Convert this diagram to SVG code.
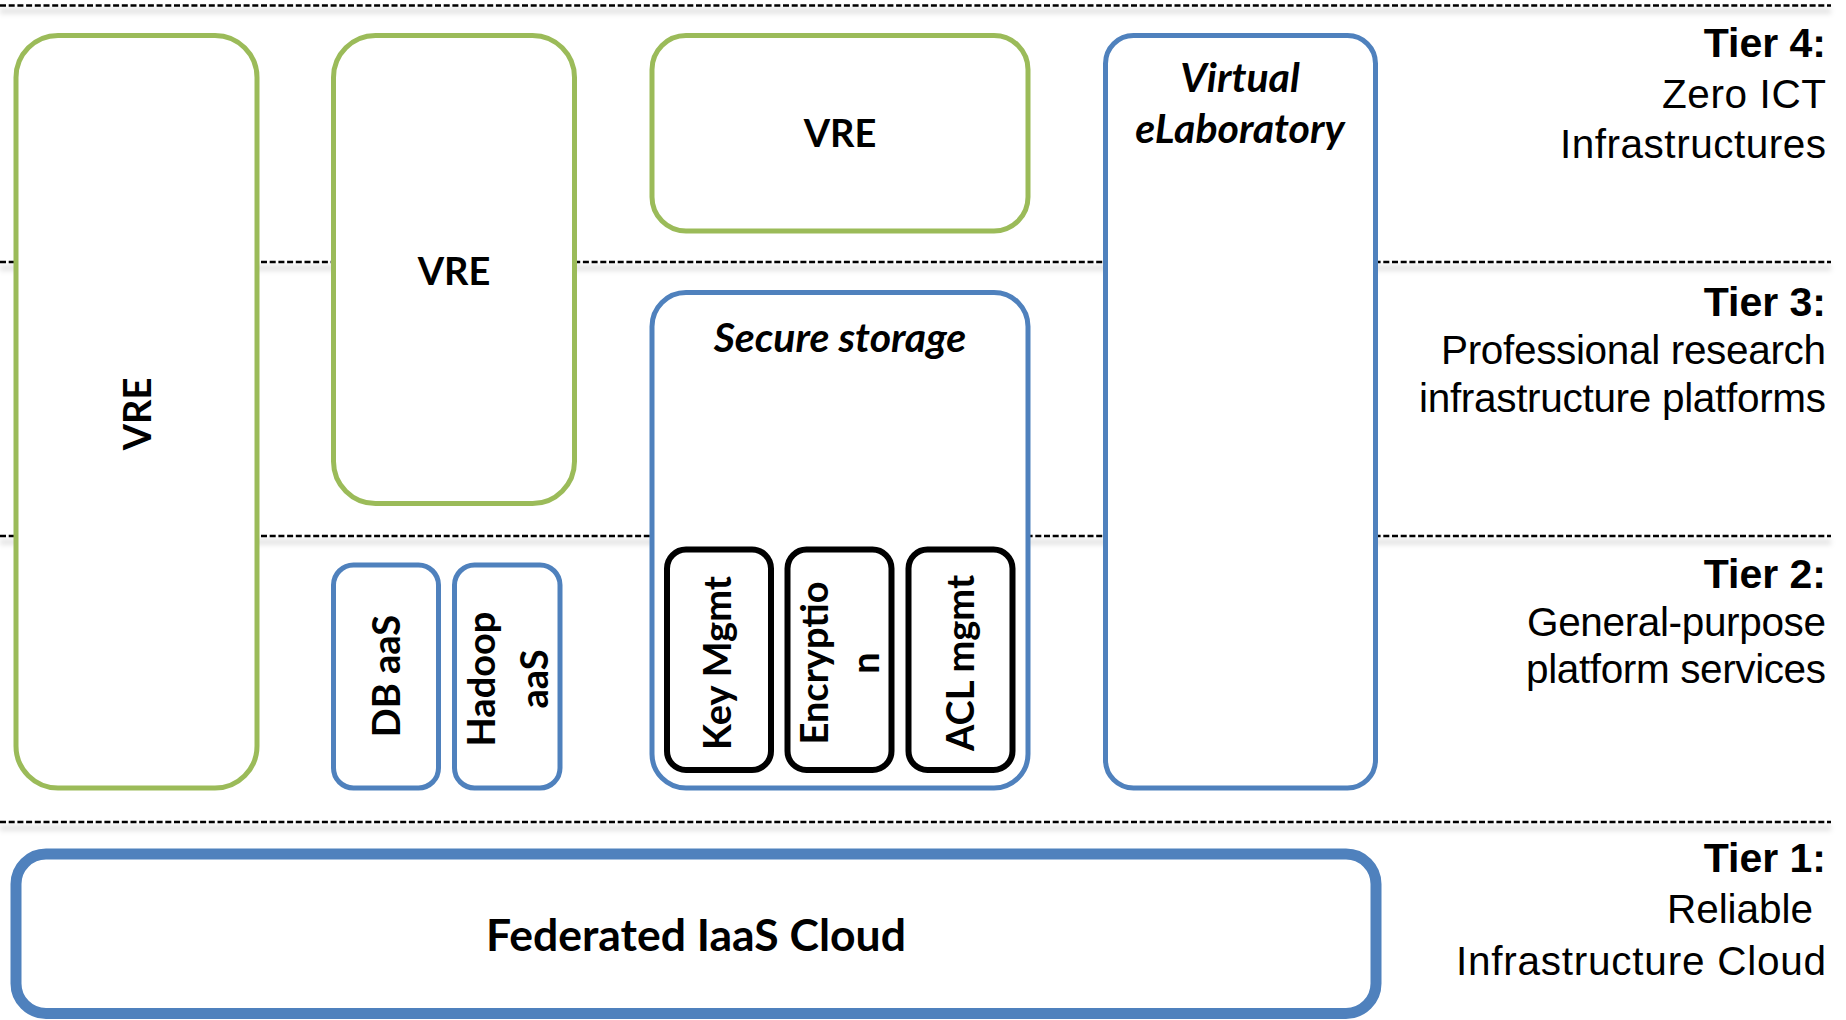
<svg xmlns="http://www.w3.org/2000/svg" width="1846" height="1020" viewBox="0 0 1846 1020">
  <defs>
    <style>
      .sep { stroke: #000; stroke-width: 2.6; stroke-dasharray: 6 2.7; fill: none; }
      .sep-shadow { stroke: #000; stroke-opacity: 0.1; stroke-width: 6; fill: none; }
      .green { fill: #fff; stroke: #9BBB59; stroke-width: 5; }
      .blue { fill: #fff; stroke: #4F81BD; stroke-width: 5; }
      .black { fill: #fff; stroke: #000; stroke-width: 6; }
      .cloud { fill: #fff; stroke: #4F81BD; stroke-width: 11; }
      .lbl { font-family: Lato, "Open Sans", sans-serif; font-weight: 700; font-size: 38px; fill: #000; text-anchor: middle; }
      .ital { font-style: italic; font-size: 41px; }
      .tier { font-family: "Liberation Sans", Arial, sans-serif; font-size: 40.5px; fill: #000; text-anchor: end; }
      .tierb { font-weight: 700; font-size: 41px; }
    </style>
    <filter id="blur" x="-5%" y="-300%" width="110%" height="700%">
      <feGaussianBlur stdDeviation="2.5"/>
    </filter>
  </defs>
  <rect width="1846" height="1020" fill="#fff"/>

  <g id="tier-lines">
    <g filter="url(#blur)">
      <line class="sep-shadow" x1="0" y1="11" x2="1831" y2="11"/>
      <line class="sep-shadow" x1="0" y1="268" x2="1831" y2="268"/>
      <line class="sep-shadow" x1="0" y1="542" x2="1831" y2="542"/>
      <line class="sep-shadow" x1="0" y1="828" x2="1831" y2="828"/>
    </g>
    <line class="sep" x1="0" y1="5.5" x2="1831" y2="5.5"/>
    <line class="sep" x1="0" y1="262" x2="1831" y2="262"/>
    <line class="sep" x1="0" y1="536" x2="1831" y2="536"/>
    <line class="sep" x1="0" y1="822" x2="1831" y2="822"/>
  </g>

  <g id="vre-left">
    <rect class="green" x="16" y="35.5" width="241" height="752.5" rx="42"/>
    <text class="lbl" transform="translate(151,414) rotate(-90)">VRE</text>
  </g>

  <g id="vre-middle">
    <rect class="green" x="333.5" y="35.5" width="241" height="468" rx="42"/>
    <text class="lbl" x="454" y="285">VRE</text>
  </g>

  <g id="vre-top">
    <rect class="green" x="652" y="35.5" width="376" height="195.5" rx="34"/>
    <text class="lbl" x="840" y="147">VRE</text>
  </g>

  <g id="virtual-elab">
    <rect class="blue" x="1105.5" y="35.5" width="270" height="752.5" rx="28"/>
    <text class="lbl ital" x="1240" y="92">Virtual</text>
    <text class="lbl ital" x="1240" y="143">eLaboratory</text>
  </g>

  <g id="secure-storage">
    <rect class="blue" x="652" y="292.5" width="376" height="495.5" rx="34"/>
    <text class="lbl ital" x="840" y="352">Secure storage</text>
  </g>

  <g id="key-mgmt">
    <rect class="black" x="667" y="549.5" width="104" height="220.5" rx="19"/>
    <text class="lbl" transform="translate(731,663) rotate(-90)">Key Mgmt</text>
  </g>

  <g id="encryption">
    <rect class="black" x="787.5" y="549.5" width="104" height="220.5" rx="19"/>
    <text class="lbl" transform="translate(828,663) rotate(-90)">Encryptio</text>
    <text class="lbl" transform="translate(879,663) rotate(-90)">n</text>
  </g>

  <g id="acl-mgmt">
    <rect class="black" x="908.5" y="549.5" width="104" height="220.5" rx="19"/>
    <text class="lbl" transform="translate(974,663) rotate(-90)">ACL mgmt</text>
  </g>

  <g id="db-aas">
    <rect class="blue" x="333.5" y="565" width="105" height="223" rx="20"/>
    <text class="lbl" transform="translate(400,676) rotate(-90)">DB aaS</text>
  </g>

  <g id="hadoop-aas">
    <rect class="blue" x="454.5" y="565" width="105.5" height="223" rx="20"/>
    <text class="lbl" transform="translate(495,679) rotate(-90)">Hadoop</text>
    <text class="lbl" transform="translate(548,679) rotate(-90)">aaS</text>
  </g>

  <g id="federated-cloud">
    <rect class="cloud" x="16" y="854" width="1360" height="159.5" rx="30"/>
    <text class="lbl" x="696" y="951" style="font-size:44.5px">Federated IaaS Cloud</text>
  </g>

  <g id="tier-labels">
    <text class="tier tierb" x="1826" y="57">Tier 4:</text>
    <text class="tier" x="1826" y="108" textLength="164" lengthAdjust="spacing">Zero ICT</text>
    <text class="tier" x="1826" y="158" textLength="266" lengthAdjust="spacing">Infrastructures</text>

    <text class="tier tierb" x="1826" y="316">Tier 3:</text>
    <text class="tier" x="1826" y="364" textLength="385" lengthAdjust="spacing">Professional research</text>
    <text class="tier" x="1826" y="412" textLength="407" lengthAdjust="spacing">infrastructure platforms</text>

    <text class="tier tierb" x="1826" y="588">Tier 2:</text>
    <text class="tier" x="1826" y="636" textLength="299" lengthAdjust="spacing">General-purpose</text>
    <text class="tier" x="1826" y="683" textLength="300" lengthAdjust="spacing">platform services</text>

    <text class="tier tierb" x="1826" y="872">Tier 1:</text>
    <text class="tier" x="1813" y="923" textLength="146" lengthAdjust="spacing">Reliable</text>
    <text class="tier" x="1826" y="975" textLength="370" lengthAdjust="spacing">Infrastructure Cloud</text>
  </g>
</svg>
